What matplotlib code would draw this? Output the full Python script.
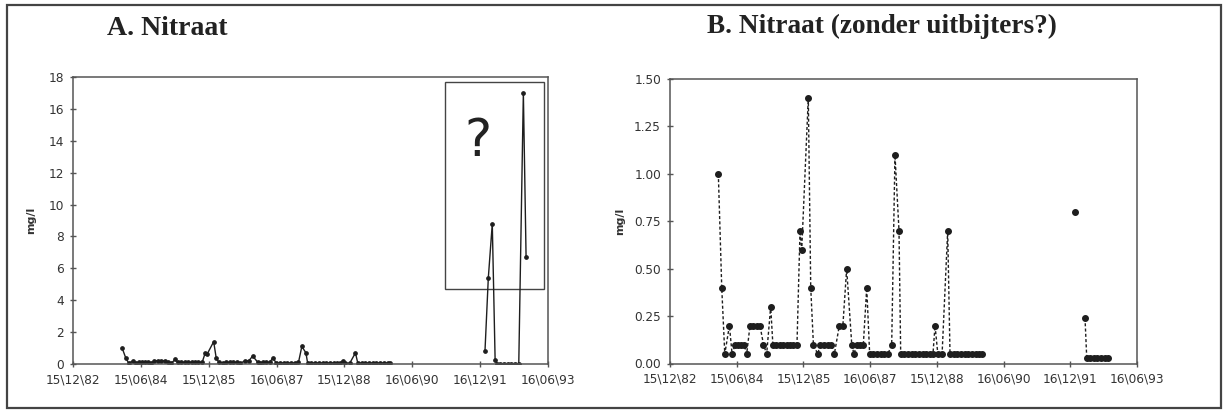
import numpy as np
import pandas as pd
import matplotlib
matplotlib.use("Agg")
import matplotlib.pyplot as plt
import matplotlib.dates as mdates
from matplotlib.patches import Rectangle

# ---------------- data ----------------
sample_dates = [
    "1984-01-16", "1984-02-13", "1984-03-09", "1984-04-16", "1984-05-08",
    "1984-06-02", "1984-06-27", "1984-07-22", "1984-08-14", "1984-09-05",
    "1984-10-02", "1984-10-30", "1984-11-26", "1984-12-23", "1985-01-21",
    "1985-02-16", "1985-03-21", "1985-04-08", "1985-05-06", "1985-06-03",
    "1985-07-01", "1985-07-29", "1985-08-26", "1985-09-23", "1985-10-23",
    "1985-11-17", "1985-12-01", "1986-01-24", "1986-02-13", "1986-03-07",
    "1986-04-11", "1986-05-03", "1986-06-02", "1986-07-02", "1986-08-01",
    "1986-08-26", "1986-10-06", "1986-11-04", "1986-12-05", "1987-01-16",
    "1987-02-03", "1987-02-26", "1987-03-24", "1987-04-21", "1987-05-19",
    "1987-06-12", "1987-07-12", "1987-08-11", "1987-09-10", "1987-10-10",
    "1987-11-09", "1987-12-10", "1988-01-06", "1988-02-08", "1988-02-22",
    "1988-03-23", "1988-04-22", "1988-05-22", "1988-06-21", "1988-07-21",
    "1988-08-20", "1988-09-19", "1988-10-19", "1988-11-13", "1988-11-30",
    "1988-12-23", "1989-01-27", "1989-03-14", "1989-04-02", "1989-05-02",
    "1989-06-01", "1989-07-01", "1989-07-31", "1989-08-30", "1989-09-29",
    "1989-10-29", "1989-11-28", "1989-12-18", "1990-06-01",
    "1992-01-24", "1992-02-20", "1992-03-23", "1992-04-15", "1992-04-29",
    "1992-05-26", "1992-06-25", "1992-07-25", "1992-08-24", "1992-09-23",
    "1992-10-23", "1992-11-29", "1992-12-21",
]
nitraat = [
    1.00, 0.40, 0.05, 0.20, 0.05,
    0.10, 0.10, 0.10, 0.10, 0.05,
    0.20, 0.20, 0.20, 0.20, 0.10,
    0.05, 0.30, 0.10, 0.10, 0.10,
    0.10, 0.10, 0.10, 0.10, 0.10,
    0.70, 0.60, 1.40, 0.40, 0.10,
    0.05, 0.10, 0.10, 0.10, 0.10,
    0.05, 0.20, 0.20, 0.50, 0.10,
    0.05, 0.10, 0.10, 0.10, 0.40,
    0.05, 0.05, 0.05, 0.05, 0.05,
    0.05, 0.10, 1.10, 0.70, 0.05,
    0.05, 0.05, 0.05, 0.05, 0.05,
    0.05, 0.05, 0.05, 0.05, 0.20,
    0.05, 0.05, 0.70, 0.05, 0.05,
    0.05, 0.05, 0.05, 0.05, 0.05,
    0.05, 0.05, 0.05, np.nan,
    0.80, 5.40, 8.80, 0.24, 0.03,
    0.03, 0.03, 0.03, 0.03, 0.03,
    0.03, 17.00, 6.70,
]
outlier_dates = ["1992-02-20", "1992-03-23", "1992-11-29", "1992-12-21"]

tick_dates = ["1982-12-15", "1984-06-15", "1985-12-15", "1987-06-16",
              "1988-12-15", "1990-06-16", "1991-12-16", "1993-06-16"]
tick_labels = ["15\\12\\82", "15\\06\\84", "15\\12\\85", "16\\06\\87",
               "15\\12\\88", "16\\06\\90", "16\\12\\91", "16\\06\\93"]
yticks_a = [0, 2, 4, 6, 8, 10, 12, 14, 16, 18]
yticks_b = [0.00, 0.25, 0.50, 0.75, 1.00, 1.25, 1.50]
title_a = "A. Nitraat"
title_b = "B. Nitraat (zonder uitbijters?)"
ylabel = "mg/l"

# ---------------- prep ----------------
x = mdates.date2num(pd.to_datetime(sample_dates))
vals_a = np.array(nitraat, dtype=float)
is_out = np.isin(np.array(sample_dates), np.array(outlier_dates))
vals_b = np.where(is_out, np.nan, vals_a)
xt = mdates.date2num(pd.to_datetime(tick_dates))

INK = "#1e1e1e"
AX = "#555555"
W, H = 1224, 416

fig = plt.figure(figsize=(W / 100, H / 100), dpi=100)
fig.patch.set_facecolor("white")

def style_axes(ax):
    for s in ax.spines.values():
        s.set_color(AX)
        s.set_linewidth(1.1)
    ax.tick_params(direction="inout", length=5, width=1, color=AX,
                   labelsize=8.7, labelcolor="#333333", pad=4)
    ax.set_xlim(xt[0], xt[-1])
    ax.set_xticks(xt)
    ax.set_xticklabels(tick_labels)
    for lab in ax.get_xticklabels() + ax.get_yticklabels():
        lab.set_family("DejaVu Sans")

# Panel A
axA = fig.add_axes([73 / W, 1 - 364 / H, 475 / W, 287 / H])
axA.plot(x, vals_a, color=INK, lw=1.0, marker="o", ms=2.4,
         mfc=INK, mec=INK)
axA.set_ylim(0, 18)
axA.set_yticks(yticks_a)
axA.set_yticklabels([str(v) for v in yticks_a])
style_axes(axA)
axA.set_ylabel(ylabel, fontsize=8, fontweight="bold", color="#333333")
axA.yaxis.set_label_coords(-0.078, 0.5)
axA.add_patch(Rectangle((0.783, 0.261), 0.2085, 0.722, transform=axA.transAxes,
                        fill=False, ec="#444444", lw=1.0))
axA.text(0.853, 0.774, "?", transform=axA.transAxes, ha="center", va="center",
         fontsize=37, color="#222222", family="DejaVu Sans")

# Panel B
axB = fig.add_axes([670 / W, 1 - 363.5 / H, 467 / W, 284.5 / H])
axB.plot(x, vals_b, color=INK, lw=1.0, ls=(0, (2.2, 1.6)), marker="o",
         ms=4.0, mfc=INK, mec=INK)
axB.set_ylim(0, 1.5)
axB.set_yticks(yticks_b)
axB.set_yticklabels([f"{v:.2f}" for v in yticks_b])
style_axes(axB)
axB.set_ylabel(ylabel, fontsize=8, fontweight="bold", color="#333333")
axB.yaxis.set_label_coords(-0.097, 0.5)

# Titles
fig.text(107 / W, 1 - 35 / H, title_a, ha="left", va="baseline",
         fontsize=20, fontweight="bold", family="Liberation Serif", color="#222222")
fig.text(707 / W, 1 - 33 / H, title_b, ha="left", va="baseline",
         fontsize=19.6, fontweight="bold", family="Liberation Serif", color="#222222")

# Outer frame
fig.add_artist(Rectangle((7 / W, 1 - 408 / H), 1214 / W, 403 / H,
                         transform=fig.transFigure, fill=False,
                         ec="#444444", lw=1.6))

fig.savefig("out.png", dpi=100, facecolor="white")
